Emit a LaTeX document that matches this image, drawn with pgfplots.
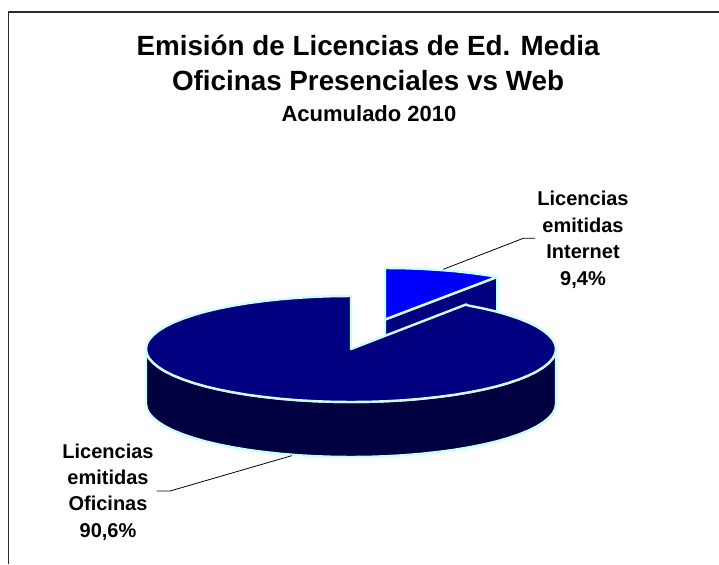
\documentclass[border=0pt]{standalone}
\usepackage{pgfplots}
\pgfplotsset{compat=1.18}
\usepackage{fontspec}
\setmainfont{Liberation Sans}
\definecolor{edge}{HTML}{CCFFFF}
\definecolor{topdark}{HTML}{000080}
\definecolor{walldark}{HTML}{000040}
\definecolor{sliceblue}{HTML}{0000FF}
\definecolor{framec}{HTML}{2A2A2A}
\tikzset{lab/.style={anchor=base, inner sep=0pt, font=\fontsize{20}{22}\selectfont\bfseries}}
\begin{document}
\begin{tikzpicture}
\begin{axis}[
  scale only axis, width=719pt, height=564pt,
  xmin=0, xmax=719, ymin=0, ymax=564, y dir=reverse,
  axis lines=none, ticks=none, clip=true,
  every axis plot/.append style={line join=round},
]
% frame
\addplot[framec, line width=1.6pt, no marks] coordinates {(8.5,564) (8.5,12) (719,12)};
% exploded slice (Licencias emitidas Internet, 9,4%): cut face
\addplot[fill=topdark, draw=edge, line width=2.4pt, no marks] coordinates {
(385,319.5) (497.4,276.8) (497.4,331.8) (385,374.5)} -- cycle;
% exploded slice top
\addplot[fill=sliceblue, draw=edge, line width=2.4pt, no marks] coordinates {
(385,319.5) (385,268) (402.6,268.2) (420.1,268.8) (437.3,269.8) (454.1,271.1) (470.4,272.9) (486.0,275.0) (497.4,276.8)} -- cycle;
% main slice (Licencias emitidas Oficinas, 90,6%): outer wall
\addplot[fill=walldark, draw=edge, line width=2.4pt, no marks] coordinates {
(556,349) (555.2,353.6) (552.9,358.2) (549.0,362.7) (543.6,367.1) (536.8,371.4) (528.5,375.5) (518.9,379.4) (508.0,383.1) (496.0,386.5) (482.8,389.6) (468.6,392.4) (453.5,394.9) (437.6,397.0) (421.1,398.8) (404.1,400.2) (386.6,401.2) (368.9,401.8) (351,402)
(333.1,401.8) (315.4,401.2) (297.9,400.2) (280.9,398.8) (264.4,397.0) (248.5,394.9) (233.4,392.4) (219.2,389.6) (206.0,386.5) (194.0,383.1) (183.1,379.4) (173.5,375.5) (165.2,371.4) (158.4,367.1) (153.0,362.7) (149.1,358.2) (146.8,353.6) (146,349)
(146,404) (146.8,408.6) (149.1,413.2) (153.0,417.7) (158.4,422.1) (165.2,426.4) (173.5,430.5) (183.1,434.4) (194.0,438.1) (206.0,441.5) (219.2,444.6) (233.4,447.4) (248.5,449.9) (264.4,452.0) (280.9,453.8) (297.9,455.2) (315.4,456.2) (333.1,456.8) (351,457)
(368.9,456.8) (386.6,456.2) (404.1,455.2) (421.1,453.8) (437.6,452.0) (453.5,449.9) (468.6,447.4) (482.8,444.6) (496.0,441.5) (508.0,438.1) (518.9,434.4) (528.5,430.5) (536.8,426.4) (543.6,422.1) (549.0,417.7) (552.9,413.2) (555.2,408.6) (556,404)} -- cycle;
% main slice top
\addplot[fill=topdark, draw=edge, line width=2.4pt, no marks] coordinates {
(351,349) (466,304.5) (468.6,305.6) (482.8,308.4) (496.0,311.5) (508.0,314.9) (518.9,318.6) (528.5,322.5) (536.8,326.6) (543.6,330.9) (549.0,335.3) (552.9,339.8) (555.2,344.4) (556,349)
(555.2,353.6) (552.9,358.2) (549.0,362.7) (543.6,367.1) (536.8,371.4) (528.5,375.5) (518.9,379.4) (508.0,383.1) (496.0,386.5) (482.8,389.6) (468.6,392.4) (453.5,394.9) (437.6,397.0) (421.1,398.8) (404.1,400.2) (386.6,401.2) (368.9,401.8) (351,402)
(333.1,401.8) (315.4,401.2) (297.9,400.2) (280.9,398.8) (264.4,397.0) (248.5,394.9) (233.4,392.4) (219.2,389.6) (206.0,386.5) (194.0,383.1) (183.1,379.4) (173.5,375.5) (165.2,371.4) (158.4,367.1) (153.0,362.7) (149.1,358.2) (146.8,353.6) (146,349)
(146.8,344.4) (149.1,339.8) (153.0,335.3) (158.4,330.9) (165.2,326.6) (173.5,322.5) (183.1,318.6) (194.0,314.9) (206.0,311.5) (219.2,308.4) (233.4,305.6) (248.5,303.1) (264.4,301.0) (280.9,299.2) (297.9,297.8) (315.4,296.8) (333.1,296.2) (351,296)} -- cycle;
% leader lines
\addplot[black, line width=0.8pt, no marks] coordinates {(443.3,269.3) (523.3,238.3) (535,238.3)};
\addplot[black, line width=0.8pt, no marks] coordinates {(291.7,455.7) (170,491) (156.7,491)};
% titles
\node[anchor=base, inner sep=0pt, font=\fontsize{27.8}{30}\selectfont\bfseries] at (axis cs:368,56) {Emisión de Licencias de Ed. Media};
\node[anchor=base, inner sep=0pt, font=\fontsize{27.8}{30}\selectfont\bfseries] at (axis cs:368,91) {Oficinas Presenciales vs Web};
\node[anchor=base, inner sep=0pt, font=\fontsize{22}{24}\selectfont\bfseries] at (axis cs:369,122) {Acumulado 2010};
% labels
\node[lab] at (axis cs:583,205.7) {Licencias};
\node[lab] at (axis cs:583,232) {emitidas};
\node[lab] at (axis cs:583,258.3) {Internet};
\node[lab] at (axis cs:583,285) {9,4\%};
\node[lab] at (axis cs:108,458) {Licencias};
\node[lab] at (axis cs:108,484) {emitidas};
\node[lab] at (axis cs:108,510.5) {Oficinas};
\node[lab] at (axis cs:108,537) {90,6\%};
\end{axis}
\path (current axis.south west) rectangle (current axis.north east);
\end{tikzpicture}
\end{document}
